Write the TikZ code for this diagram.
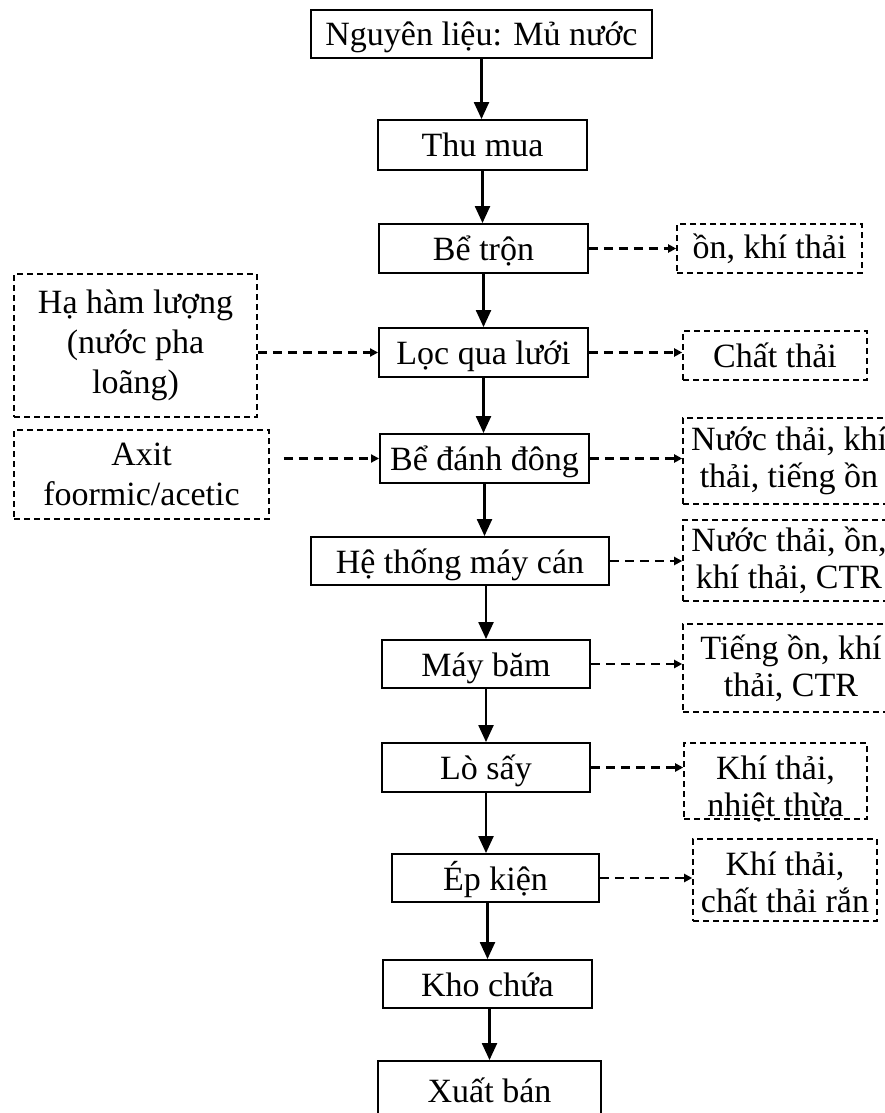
\documentclass[tikz,border=0pt]{standalone}
\usepackage{fontspec}
\setmainfont{Liberation Serif}
\usetikzlibrary{arrows.meta}

\begin{document}
\begin{tikzpicture}[x=1pt,y=-1pt,
  stepbox/.style={draw, line width=1.9pt, inner sep=0pt, minimum height=49pt,
    text height=31pt, text depth=7pt, font=\fontsize{34}{40}\selectfont},
  wastebox/.style={draw, dash pattern=on 6pt off 4pt, line width=1.6pt, inner sep=0pt},
  boxtext/.style={align=center, inner sep=0pt, font=\fontsize{34}{37}\selectfont},
  lefttext/.style={boxtext, font=\fontsize{34}{40}\selectfont},
  flow/.style={line width=2.3pt, -{Triangle[length=17pt,width=15pt]}},
  side/.style={line width=2.1pt, dash pattern=on 9pt off 6pt, -{Triangle[length=8pt,width=8pt]}},
]
\useasboundingbox (0,0) rectangle (885,1113);
\clip (0,0) rectangle (885,1113);
\fill[white] (0,0) rectangle (885,1113);

% main process chain
\node[stepbox, minimum width=341pt, minimum height=48pt] (src)  at (481.5,34)   {Nguyên liệu: Mủ nước};
\node[stepbox, minimum width=209pt, minimum height=50pt] (buy)  at (482.5,145)  {Thu mua};
\node[stepbox, minimum width=209pt] (mix)  at (483.5,248.5) {Bể trộn};
\node[stepbox, minimum width=209pt] (filt) at (483.5,352.5) {Lọc qua lưới};
\node[stepbox, minimum width=209pt] (coag) at (484.5,458.5) {Bể đánh đông};
\node[stepbox, minimum width=298pt, minimum height=48pt] (roll) at (460,561) {Hệ thống máy cán};
\node[stepbox, minimum width=208pt, minimum height=48pt] (chop) at (486,664)   {Máy băm};
\node[stepbox, minimum width=208pt] (dry)  at (486,767.5)  {Lò sấy};
\node[stepbox, minimum width=207pt, minimum height=48pt] (press) at (495.5,878) {Ép kiện};
\node[stepbox, minimum width=209pt, minimum height=48pt] (store) at (487.5,984) {Kho chứa};
\node[stepbox, minimum width=223pt, minimum height=58pt] (sell) at (489.5,1090) {Xuất bán};

\draw[flow] (src.south) -- (src.south |- buy.north);
\draw[flow] (buy.south) -- (buy.south |- mix.north);
\draw[flow] (mix.south) -- (mix.south |- filt.north);
\draw[flow] (filt.south) -- (filt.south |- coag.north);
\draw[flow] (coag.south) -- (coag.south |- roll.north);
\draw[flow] (chop.north |- roll.south) -- (chop.north);
\draw[flow] (chop.south) -- (chop.south |- dry.north);
\draw[flow] (dry.south) -- (dry.south |- press.north);
\draw[flow] (store.north |- press.south) -- (store.north);
\draw[flow] (sell.north |- store.south) -- (sell.north);

% inputs on the left
\node[wastebox, minimum width=243pt, minimum height=143pt] (dil) at (135.5,345.5) {};
\node[lefttext] at (dil) {Hạ hàm lượng\\(nước pha\\loãng)};
\node[wastebox, minimum width=255pt, minimum height=89pt] (acid) at (141.5,474.5) {};
\node[lefttext] at (acid) {Axit\\foormic/acetic};

\draw[side] (dil.east |- filt.west) -- (filt.west);
\draw[side, shorten <=14pt] (acid.east |- coag.west) -- (coag.west);

% emissions on the right
\node[wastebox, minimum width=185pt, minimum height=49pt] (w1) at (769.5,248.5) {};
\node[boxtext] at (w1) {ồn, khí thải};
\node[wastebox, minimum width=184pt, minimum height=49pt] (w2) at (775,355.5) {};
\node[boxtext] at (w2) {Chất thải};
\node[wastebox, minimum width=212pt, minimum height=86pt] (w3) at (789,461) {};
\node[boxtext] at (w3) {Nước thải, khí\\thải, tiếng ồn};
\node[wastebox, minimum width=212pt, minimum height=81pt] (w4) at (789,560.5) {};
\node[boxtext] at (w4) {Nước thải, ồn,\\khí thải, CTR};
\node[wastebox, minimum width=216pt, minimum height=88pt] (w5) at (791,668) {};
\node[boxtext] at (w5) {Tiếng ồn, khí\\thải, CTR};
\node[wastebox, minimum width=183pt, minimum height=76pt] (w6) at (775.5,781) {};
\node[boxtext] at ([yshift=-8pt]w6.center) {Khí thải,\\nhiệt thừa};
\node[wastebox, minimum width=184pt, minimum height=82pt] (w7) at (785,880) {};
\node[boxtext] at ([yshift=-2pt]w7.center) {Khí thải,\\chất thải rắn};

\draw[side] (mix.east) -- (mix.east -| w1.west);
\draw[side] (filt.east) -- (filt.east -| w2.west);
\draw[side] (coag.east) -- (coag.east -| w3.west);
\draw[side] (roll.east) -- (roll.east -| w4.west);
\draw[side] (chop.east) -- (chop.east -| w5.west);
\draw[side] (dry.east) -- (dry.east -| w6.west);
\draw[side] (press.east) -- (press.east -| w7.west);
\end{tikzpicture}
\end{document}
